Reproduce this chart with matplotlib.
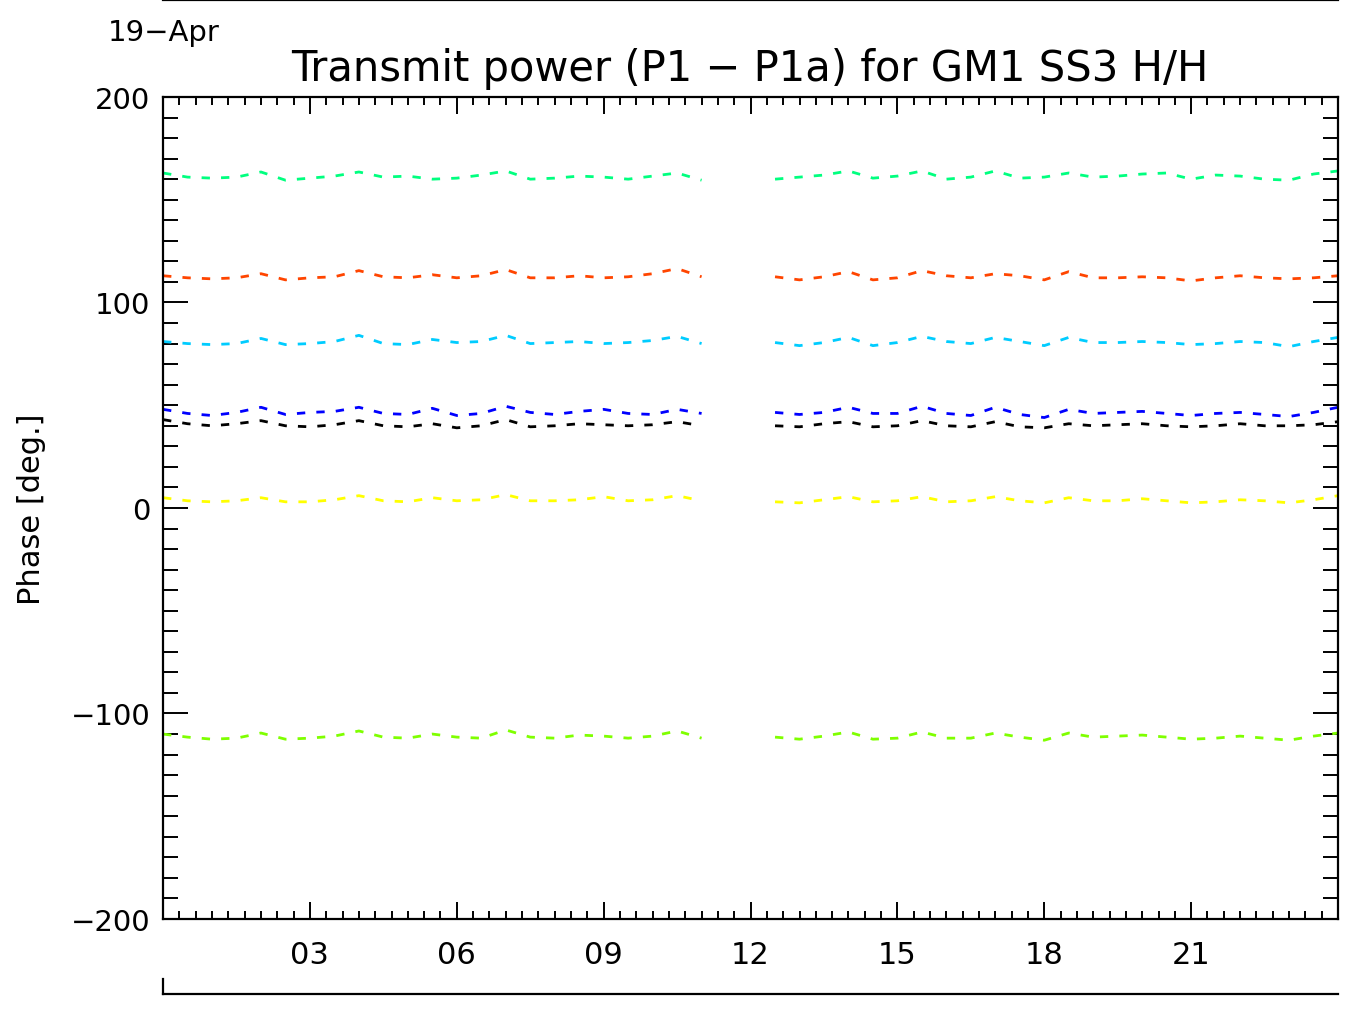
import numpy as np
import matplotlib
matplotlib.use('Agg')
import matplotlib.pyplot as plt
from matplotlib.lines import Line2D
from matplotlib.ticker import MultipleLocator, FixedLocator

nan = np.nan

# hours of the day, half-hour grid (data gap around noon)
hours = np.arange(0, 24.01, 0.5)

phase_green = [163, 161, 160.5, 161, 163.5, 159.5, 160.5, 161.5, 163.5, 161, 161.5, 160, 160.5, 162, 164, 160,
               160.5, 161.5, 161, 160, 161.5, 163, 159.5, nan, nan, 160, 161, 162, 164, 160.5, 161.5, 164, 160,
               161, 164, 160.5, 161, 163, 161, 161.5, 162.5, 163, 160, 162, 161.5, 160, 159.5, 162.5, 164]
phase_red = [113, 112, 111.5, 112, 114, 111, 112, 112.5, 115.5, 112.5, 112, 113.5, 112, 113, 116, 112,
             112, 113, 112, 112.5, 114, 116.5, 112.5, nan, nan, 112.5, 111, 112.5, 115, 111, 112, 115.5, 113,
             112, 114, 113, 111, 115, 112, 112, 112.5, 112, 110.5, 112, 113, 112, 111.5, 112, 113]
phase_cyan = [81, 80, 79.5, 80, 82.5, 79.5, 80, 81, 84, 80, 79.5, 82, 80.5, 81, 84, 80,
              80.5, 81, 80, 80.5, 81.5, 83.5, 80, nan, nan, 80.5, 79, 80.5, 83, 79, 80.5, 83.5, 81,
              80, 83, 81, 79, 83, 80.5, 80.5, 81, 80.5, 79.5, 80, 81, 80.5, 78.5, 81, 83]
phase_blue = [48, 46, 45, 46.5, 49, 45.5, 46.5, 47, 49, 46, 45.5, 48.5, 45, 46, 49.5, 46.5,
              45.5, 47, 48, 46, 45.5, 48, 46, nan, nan, 46.5, 45.5, 46.5, 49, 46, 46, 49.5, 46,
              45, 49, 45.5, 44, 48, 46, 46.5, 47, 46, 45, 46, 46.5, 45.5, 44.5, 46.5, 49]
phase_black = [43, 41, 40, 41, 42.5, 40, 39.5, 40.5, 42.5, 40, 39.5, 41, 39, 40, 43, 39.5,
               40, 41, 40.5, 40, 40.5, 42, 40, nan, nan, 40, 39.5, 41, 42, 39.5, 40, 42.5, 40,
               39.5, 42, 39.5, 39, 41, 40, 40.5, 41, 40, 39.5, 40, 41, 40, 40, 40.5, 42]
phase_yellow = [5, 3.5, 3, 3.5, 5, 3, 3, 4, 6, 3.5, 3, 5, 3.5, 4, 6.5, 3.5,
                3.5, 4, 5.5, 3.5, 4, 6, 3.5, nan, nan, 3, 2.5, 4, 5.5, 3, 3.5, 5.5, 3,
                3.5, 5.5, 3.5, 2.5, 5, 3.5, 3.5, 4.5, 3.5, 2.5, 3, 4, 3.5, 2.5, 4, 6]
phase_lime = [-110, -111.5, -112.5, -112, -109.5, -112.5, -112, -111, -108.5, -111.5, -112, -110, -111.5, -112,
              -108, -111.5, -112, -110.5, -111, -112, -111, -108.5, -112, nan, nan, -111.5, -112.5, -111, -109,
              -112.5, -112, -109, -112, -112, -109.5, -111.5, -113, -109.5, -111.5, -111, -110.5, -111.5,
              -112.5, -112, -111, -112, -113, -111, -109.5]

series = [phase_green, phase_red, phase_cyan, phase_blue, phase_black, phase_yellow, phase_lime]
colors = ['#00ff7f', '#ff4500', '#00ccff', '#0000ff', '#000000', '#ffff00', '#7fff00']

xticks = [3, 6, 9, 12, 15, 18, 21]
xticklabels = ['03', '06', '09', '12', '15', '18', '21']

fig = plt.figure(figsize=(13.51, 10.12), dpi=100)
ax = fig.add_axes([0.1207, 0.0909, 0.8697, 0.8123])

for vals, c in zip(series, colors):
    ax.plot(hours, vals, color=c, linewidth=2, linestyle=(0, (3, 4)), solid_capstyle='butt')

ax.set_xlim(0, 24)
ax.set_ylim(-200, 200)
ax.xaxis.set_major_locator(FixedLocator(xticks))
ax.set_xticklabels(xticklabels)
ax.xaxis.set_minor_locator(MultipleLocator(1 / 3))
ax.yaxis.set_major_locator(MultipleLocator(100))
ax.yaxis.set_minor_locator(MultipleLocator(10))

ax.tick_params(axis='x', which='major', direction='in', length=12, width=1.4, top=True,
               labelsize=22, pad=15)
ax.tick_params(axis='x', which='minor', direction='in', length=5.5, width=1.4, top=True)
ax.tick_params(axis='y', which='major', direction='in', length=18, width=1.4, right=True,
               labelsize=21, pad=9)
ax.tick_params(axis='y', which='minor', direction='in', length=11, width=1.4, right=True)
for s in ax.spines.values():
    s.set_linewidth(1.6)

ax.set_ylabel('Phase [deg.]', fontsize=22, labelpad=18)
fig.text(0.555, 0.932, 'Transmit power (P1 \u2212 P1a) for GM1 SS3 H/H', fontsize=30,
         ha='center', va='center')
fig.text(0.08, 0.967, '19\u2212Apr', fontsize=21, ha='left', va='center')

# secondary date axes drawn as plain lines (top, bottom)
fig.add_artist(Line2D([0.1207, 0.9904], [0.9995, 0.9995], color='black', linewidth=1.6))
fig.add_artist(Line2D([0.1207, 0.9904], [0.0168, 0.0168], color='black', linewidth=1.6))
fig.add_artist(Line2D([0.1207, 0.1207], [0.0168, 0.0316], color='black', linewidth=1.6))

fig.savefig('out.png', dpi=100)
